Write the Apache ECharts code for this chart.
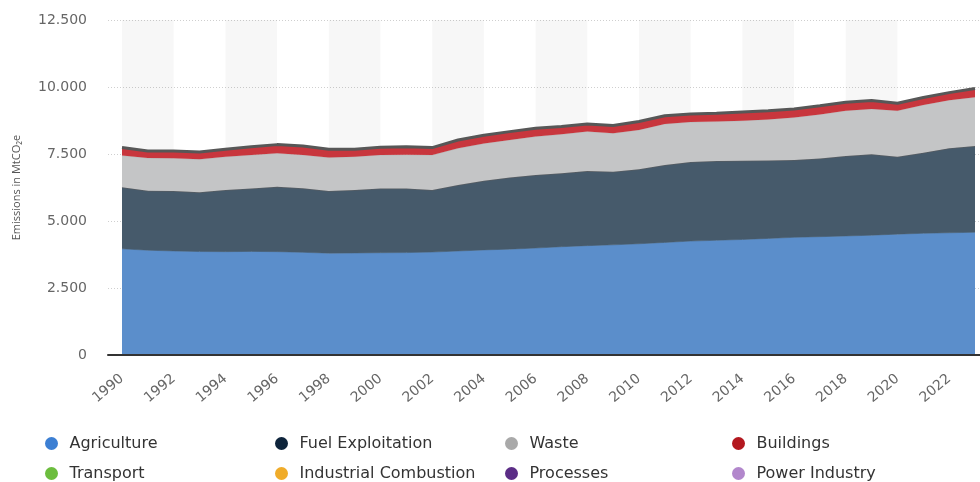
<!DOCTYPE html>
<html>
<head>
<meta charset="utf-8">
<script src="https://cdn.jsdelivr.net/npm/echarts@6/dist/echarts.min.js"></script>
<style>
html,body{margin:0;padding:0;background:#fff;}
#chart{width:980px;height:482px;}
</style>
</head>
<body>
<div id="chart"></div>
<script>
const years = ['1990','1991','1992','1993','1994','1995','1996','1997','1998','1999','2000','2001','2002','2003','2004','2005','2006','2007','2008','2009','2010','2011','2012','2013','2014','2015','2016','2017','2018','2019','2020','2021','2022','2023'];

const agriculture = [3960,3910,3880,3860,3855,3865,3855,3830,3800,3805,3815,3820,3840,3880,3920,3950,3990,4040,4080,4110,4150,4200,4250,4280,4310,4350,4390,4415,4440,4470,4510,4540,4560,4580];
const fuelExploitation = [2300,2220,2240,2210,2300,2350,2425,2390,2320,2350,2400,2390,2320,2460,2580,2670,2730,2740,2790,2730,2780,2890,2950,2960,2940,2910,2890,2920,2985,3020,2890,3010,3150,3220];
const waste = [1180,1220,1220,1230,1240,1245,1245,1245,1245,1245,1245,1260,1300,1370,1390,1405,1430,1455,1470,1430,1470,1530,1490,1470,1490,1530,1580,1640,1690,1690,1715,1780,1800,1815];
const buildings = [300,265,275,275,280,310,325,335,315,280,290,305,280,310,310,310,310,290,280,290,310,310,305,310,330,325,315,325,315,315,280,280,280,330];
const transport = [];
const industrialCombustion = [];
const processes = [];
const powerIndustry = [];

const yTicks = [0, 2500, 5000, 7500, 10000, 12500];
const yAxisTitle = 'Emissions in MtCO\u2082e';

const chart = echarts.init(document.getElementById('chart'), null, {renderer: 'canvas'});

function fmt(v){
  return String(v).replace(/\B(?=(\d{3})+(?!\d))/g, '.');
}

function areaSeries(name, data, fill, icon, lineColor, lineWidth, z){
  return {
    name: name,
    type: 'line',
    xAxisIndex: 1,
    yAxisIndex: 1,
    stack: 'total',
    data: data,
    showSymbol: false,
    symbol: 'none',
    z: z,
    color: icon,
    itemStyle: {color: icon},
    lineStyle: {color: lineColor, width: lineWidth},
    areaStyle: {color: fill, opacity: 1},
    emphasis: {disabled: true}
  };
}
function emptySeries(name, data, color){
  return {name: name, type: 'line', xAxisIndex: 1, yAxisIndex: 1, data: data, color: color, showSymbol: false};
}

const ellipseIcon = 'path://M10,0A10,10,0,1,1,10,20A10,10,0,1,1,10,0Z';
const legendText = {fontFamily: 'DejaVu Sans', fontSize: 16, color: '#333', lineHeight: 19, padding: [0, 0, 0, 3]};
function legendItem(left, top, name){
  return {
    orient: 'horizontal',
    left: left,
    top: top,
    padding: 0,
    itemWidth: 20,
    itemHeight: 13,
    icon: ellipseIcon,
    selectedMode: false,
    textStyle: legendText,
    data: [name]
  };
}

const option = {
  animation: false,
  backgroundColor: '#ffffff',
  grid: [
    {left: 108, right: 0, top: 20, height: 335, containLabel: false},
    {left: 122, right: 5, top: 20, height: 335, containLabel: false}
  ],
  legend: [
    legendItem(45, 434, 'Agriculture'),
    legendItem(45, 464, 'Transport'),
    legendItem(275, 434, 'Fuel Exploitation'),
    legendItem(275, 464, 'Industrial Combustion'),
    legendItem(505, 434, 'Waste'),
    legendItem(505, 464, 'Processes'),
    legendItem(732, 434, 'Buildings'),
    legendItem(732, 464, 'Power Industry')
  ],
  xAxis: [
    {
      gridIndex: 0,
      type: 'category',
      data: years,
      boundaryGap: true,
      axisLine: {show: false},
      axisTick: {show: false},
      axisLabel: {show: false},
      splitLine: {show: false}
    },
    {
      gridIndex: 1,
      type: 'category',
      data: years,
      boundaryGap: false,
      axisLine: {show: false},
      axisTick: {show: false},
      axisLabel: {
        interval: 1,
        rotate: 40,
        margin: 22,
        fontFamily: 'DejaVu Sans',
        fontSize: 14,
        color: '#666'
      },
      splitLine: {show: false},
      splitArea: {
        show: true,
        interval: 1,
        areaStyle: {color: ['rgba(0,0,0,0.03)', 'rgba(255,255,255,0)']}
      }
    }
  ],
  yAxis: [
    {
      gridIndex: 0,
      type: 'value',
      min: 0,
      max: 12500,
      interval: 2500,
      name: yAxisTitle,
      nameLocation: 'middle',
      nameGap: 86,
      nameRotate: 90,
      nameTextStyle: {fontFamily: 'Open Sans', fontSize: 11, color: '#555'},
      axisLine: {show: false},
      axisTick: {show: false},
      axisLabel: {
        margin: 21,
        fontFamily: 'DejaVu Sans',
        fontSize: 14,
        color: '#666',
        formatter: function(v){ return yTicks.indexOf(v) >= 0 ? fmt(v) : ''; }
      },
      splitLine: {show: true, lineStyle: {color: '#cfcfcf', type: [1, 2], width: 1}}
    },
    {
      gridIndex: 1,
      type: 'value',
      min: 0,
      max: 12500,
      interval: 2500,
      show: false
    }
  ],
  series: [
    areaSeries('Agriculture', agriculture, '#5b8ecb', '#3c7fd3', '#52779f', 1, 4),
    areaSeries('Fuel Exploitation', fuelExploitation, '#465a6b', '#0e243b', '#565c62', 1.5, 5),
    areaSeries('Waste', waste, '#c4c5c6', '#a9a9a9', '#a9aaab', 0.5, 6),
    areaSeries('Buildings', buildings, '#c8363d', '#b3181f', '#575757', 3, 7),
    emptySeries('Transport', transport, '#6cbd3e'),
    emptySeries('Industrial Combustion', industrialCombustion, '#f0ac2a'),
    emptySeries('Processes', processes, '#5b2d86'),
    emptySeries('Power Industry', powerIndustry, '#b287cc')
  ],
  graphic: []
};

chart.setOption(option);

// Baseline axis line spanning the background grid (drawn via the axis of grid 0)
chart.setOption({
  xAxis: [{axisLine: {show: true, onZero: true, lineStyle: {color: '#333', width: 2}}, z: 10}, {}]
});
</script>
</body>
</html>
